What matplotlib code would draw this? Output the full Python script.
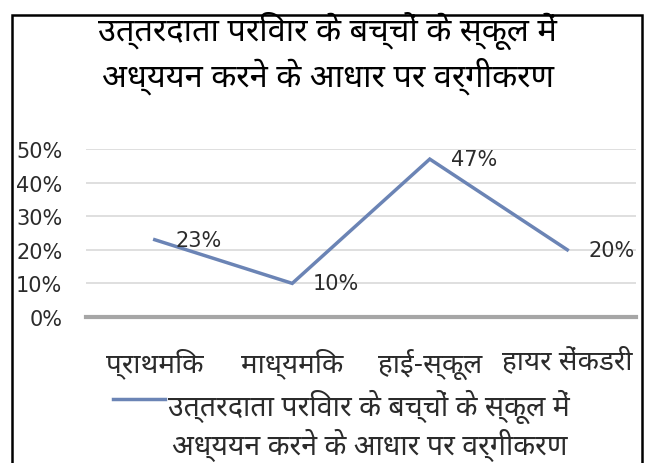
import matplotlib
matplotlib.use('Agg')
import matplotlib.pyplot as plt
from matplotlib.patches import Rectangle

title_lines = ['उत्तरदाता परिवार के बच्चों के स्कूल में',
               'अध्ययन करने के आधार पर वर्गीकरण']
categories = ['प्राथमिक', 'माध्यमिक', 'हाई-स्कूल', 'हायर सेंकडरी']
values = [0.23, 0.10, 0.47, 0.20]
yticks = [0, 0.1, 0.2, 0.3, 0.4, 0.5]

plt.rcParams['font.family'] = ['Noto Sans Devanagari', 'DejaVu Sans']
line_color = '#6b84b5'
text_color = '#2b2b2b'

fig = plt.figure(figsize=(6.49, 4.64), dpi=100)
ax = fig.add_axes([0.1325, 0.3147, 0.8475, 0.362])

x = list(range(len(categories)))
ax.plot(x, values, color=line_color, lw=2.5, solid_joinstyle='miter')
for xi, v in zip(x, values):
    ax.annotate('{:.0%}'.format(v), (xi, v), xytext=(15, 0), textcoords='offset points',
                ha='left', va='center', fontsize=15, family='DejaVu Sans',
                color=text_color, annotation_clip=False)

ax.set_xlim(-0.5, len(categories) - 0.5)
ax.set_ylim(0, 0.5)
ax.set_yticks(yticks)
ax.set_yticklabels(['{:.0%}'.format(t) for t in yticks], fontsize=15, family='DejaVu Sans',
                   color=text_color)
ax.set_xticks(x)
ax.set_xticklabels(categories, fontsize=20, color=text_color)
ax.tick_params(axis='y', length=0, pad=17)
ax.tick_params(axis='x', length=0, pad=22)
ax.grid(axis='y', color='#d9d9d9', lw=1.2)
for s in ['top', 'right', 'left']:
    ax.spines[s].set_visible(False)
ax.spines['bottom'].set_color('#a6a6a6')
ax.spines['bottom'].set_linewidth(3)
ax.set_axisbelow(True)

# two line title, bold
fig.text(0.505, 1 - 31 / 464, title_lines[0], ha='center', va='center',
         fontsize=23.5, fontweight='bold', color='black')
fig.text(0.505, 1 - 76 / 464, title_lines[1], ha='center', va='center',
         fontsize=23.5, fontweight='bold', color='black')

# legend drawn by hand below the axis
fig.add_artist(plt.Line2D([113 / 649, 165 / 649], [1 - 400 / 464, 1 - 400 / 464],
                          color=line_color, lw=2.5))
fig.text(168 / 649, 1 - 407 / 464, title_lines[0], ha='left', va='center',
         fontsize=20.5, color=text_color)
fig.text(172 / 649, 1 - 445 / 464, title_lines[1], ha='left', va='center',
         fontsize=20.5, color=text_color)

# outer frame
fig.add_artist(Rectangle((12 / 649, -0.02), 630 / 649, 1.003 - 8 / 464,
                         transform=fig.transFigure, fill=False, ec='black', lw=1.8))

fig.savefig('out.png', dpi=100)
